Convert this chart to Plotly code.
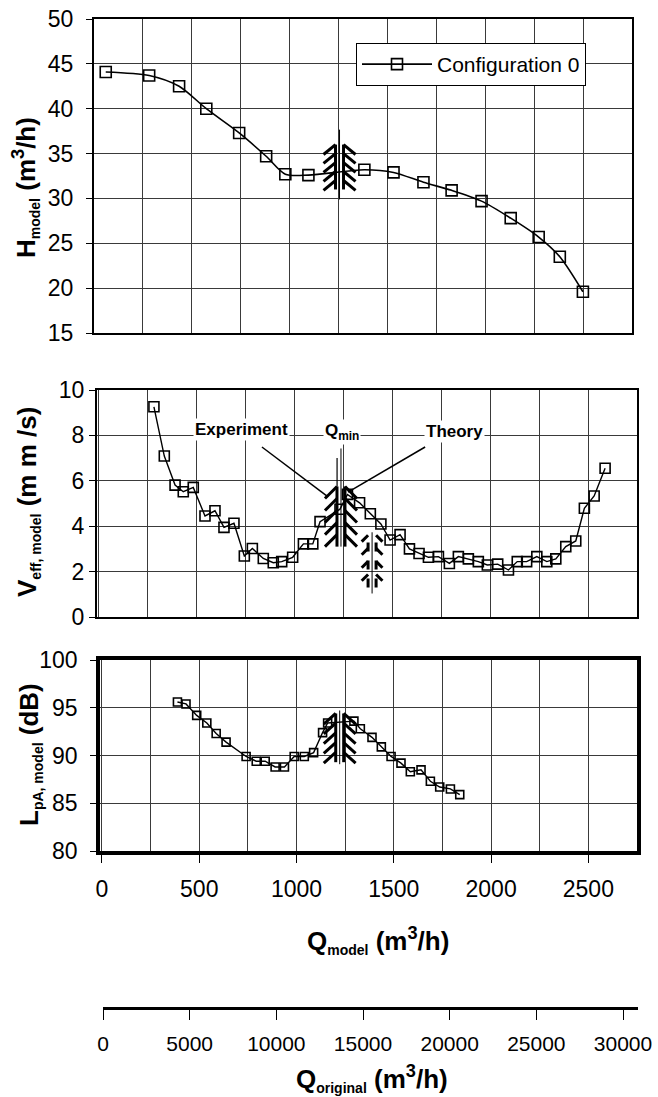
import plotly.graph_objects as go

# ---------------- data ----------------
Q_H = [60, 282, 435, 574, 742, 880, 978, 1096, 1382, 1531, 1684, 1828, 1981, 2130, 2273, 2381, 2499]
H_model = [44.1, 43.7, 42.5, 40.0, 37.3, 34.7, 32.7, 32.6, 33.2, 32.9, 31.8, 30.9, 29.7, 27.8, 25.7, 23.5, 19.6]

Q_V = [281, 334, 389, 431, 482, 542, 593, 639, 690, 743, 784, 840, 891, 934, 990, 1045, 1093,
       1130, 1232, 1270, 1332, 1387, 1441, 1488, 1539, 1587, 1636, 1684, 1735, 1791, 1837, 1888,
       1939, 1985, 2038, 2093, 2138, 2186, 2238, 2289, 2335, 2386, 2437, 2481, 2531, 2587]
V_eff = [9.26, 7.09, 5.81, 5.52, 5.71, 4.45, 4.68, 3.95, 4.13, 2.69, 3.02, 2.58, 2.39, 2.44, 2.63, 3.22, 3.22,
         4.2, 4.75, 5.4, 5.03, 4.55, 4.1, 3.39, 3.63, 3.0, 2.8, 2.63, 2.66, 2.36, 2.66, 2.56,
         2.44, 2.29, 2.33, 2.07, 2.44, 2.44, 2.66, 2.44, 2.56, 3.1, 3.35, 4.79, 5.33, 6.55]

Q_L = [388, 432, 487, 539, 587, 638, 741, 793, 839, 890, 938, 988, 1040, 1088, 1134, 1160,
       1295, 1328, 1388, 1436, 1486, 1537, 1585, 1640, 1688, 1736, 1791, 1839]
L_pA = [95.6, 95.4, 94.2, 93.4, 92.3, 91.4, 89.9, 89.4, 89.4, 88.8, 88.8, 89.9, 89.9, 90.3, 92.4, 93.4,
        93.6, 92.8, 91.9, 90.9, 89.9, 89.2, 88.3, 88.5, 87.3, 86.7, 86.5, 85.9]

series_name = "Configuration 0"
Q_orig_ticks = [0, 5000, 10000, 15000, 20000, 25000, 30000]

# Q_min marks (centre Q, low value, high value) per panel
qmin_top = (1255, 31.0, 36.0)
qmin_mid = (1237, 3.1, 5.75)
qmin_mid2 = (1396, 1.3, 3.6)
qmin_bot = (1222, 89.3, 94.4)

W, Hh = 658, 1097
FONT = "Liberation Sans, Arial, sans-serif"

def px(x):
    return x / W

def py(y):
    return 1 - y / Hh

fig = go.Figure()

mk = dict(symbol="square-open", color="black", line=dict(width=1.6))
fig.add_trace(go.Scatter(x=Q_H, y=H_model, mode="lines+markers", name=series_name,
                         line=dict(color="black", width=1.6, shape="spline", smoothing=0.8),
                         marker=dict(size=11, **mk), xaxis="x", yaxis="y", showlegend=True))
fig.add_trace(go.Scatter(x=Q_V, y=V_eff, mode="lines+markers", name=series_name,
                         line=dict(color="black", width=1.4),
                         marker=dict(size=10, **mk), xaxis="x2", yaxis="y2", showlegend=False))
fig.add_trace(go.Scatter(x=Q_L, y=L_pA, mode="lines+markers", name=series_name,
                         line=dict(color="black", width=1.4),
                         marker=dict(size=8, **mk), xaxis="x3", yaxis="y3", showlegend=False))
# invisible trace for the Q_original axis
fig.add_trace(go.Scatter(x=[Q_orig_ticks[0], Q_orig_ticks[-1]], y=[0, 0], mode="markers",
                         marker=dict(opacity=0), xaxis="x4", yaxis="y4", showlegend=False,
                         hoverinfo="skip"))

GRID = "#3a3a3a"
tickfont = dict(family=FONT, size=23, color="black")

def xax(domain, rng, labels, lw, anchor):
    d = dict(domain=domain, range=rng, tick0=0, dtick=500, showgrid=True, gridcolor=GRID,
             gridwidth=1, zeroline=False, showline=True, mirror=True, linecolor="black",
             linewidth=lw, tickfont=tickfont, anchor=anchor, automargin=False,
             minor=dict(dtick=250, tick0=0, showgrid=True, gridcolor=GRID, gridwidth=1, ticks=""))
    if labels:
        d.update(ticks="outside", ticklen=8, tickcolor="black", showticklabels=True,
                 ticklabelstandoff=7)
    else:
        d.update(ticks="", showticklabels=False)
    return d

def yax(domain, rng, dtick, lw, anchor, standoff):
    return dict(domain=domain, range=rng, dtick=dtick, tick0=0, showgrid=True, gridcolor=GRID,
                gridwidth=1, zeroline=False, showline=True, mirror=True, linecolor="black",
                linewidth=lw, ticks="outside", ticklen=6, tickcolor="black", tickfont=tickfont,
                anchor=anchor, ticklabelstandoff=standoff, automargin=False)

layout = dict(
    width=W, height=Hh, autosize=False,
    margin=dict(l=0, r=0, t=0, b=0, pad=0, autoexpand=False),
    paper_bgcolor="white", plot_bgcolor="white",
    font=dict(family=FONT, color="black"),
    xaxis=xax([px(94), px(632)], [0, 2750], False, 2, "y"),
    yaxis=yax([py(333), py(19)], [15, 50], 5, 2, "x", 8),
    xaxis2=xax([px(97), px(637)], [-10, 2750], False, 2, "y2"),
    yaxis2=yax([py(617), py(390)], [0, 10], 2, 2, "x2", 0),
    xaxis3=xax([px(100), px(637)], [-10, 2750], True, 3.5, "y3"),
    yaxis3=yax([py(851), py(660)], [80, 100], 5, 3.5, "x3", 8),
    xaxis4=dict(domain=[px(103), px(638)], range=[0, 30865], anchor="free", position=py(1008),
                showline=True, linecolor="black", linewidth=3, showgrid=False, zeroline=False,
                ticks="outside", ticklen=10, tickcolor="black", tickwidth=1.2, automargin=False,
                tickvals=Q_orig_ticks, ticktext=[str(v) for v in Q_orig_ticks],
                tickfont=dict(family=FONT, size=21, color="black"), ticklabelstandoff=6),
    yaxis4=dict(domain=[0, 0.01], visible=False, anchor="x4", range=[0, 1], automargin=False),
    showlegend=True,
    legend=dict(x=px(356), y=py(43), xanchor="left", yanchor="top", bgcolor="white",
                bordercolor="black", borderwidth=1, orientation="v",
                font=dict(family=FONT, size=21, color="black"), itemwidth=70,
                tracegroupgap=0),
)
fig.update_layout(**layout)

# ---------------- Q_min "fir tree" marks ----------------
shapes = []

def tree(xr, yr, centre, qpp, ypp, thin_ext=(8, 8), n=5, dash="solid", half=4, arm=12):
    qc, ylo, yhi = centre
    dq = lambda p: p * qpp
    dy = lambda p: p * ypp
    ln = dict(color="black", width=3, dash=dash)
    shapes.append(dict(type="line", xref=xr, yref=yr, x0=qc, x1=qc,
                       y0=ylo - dy(thin_ext[0]), y1=yhi + dy(thin_ext[1]),
                       line=dict(color="black", width=1)))
    for s in (-1, 1):
        xb = qc + s * dq(half)
        shapes.append(dict(type="line", xref=xr, yref=yr, x0=xb, x1=xb, y0=ylo, y1=yhi, line=ln))
        step = (yhi - ylo) / n
        for i in range(n):
            yt = yhi - i * step
            shapes.append(dict(type="line", xref=xr, yref=yr, x0=xb, y0=yt,
                               x1=xb + s * dq(arm), y1=yt - min(step * 1.1, dy(arm)), line=ln))

QPP = 1 / 0.1955
tree("x", "y", qmin_top, QPP, 1 / 9.0, thin_ext=(10, 15))
tree("x2", "y2", qmin_mid, QPP, 1 / 22.7, thin_ext=(0, 38))
tree("x2", "y2", qmin_mid2, QPP, 1 / 22.7, thin_ext=(6, 3), n=4, dash="dash")
tree("x3", "y3", qmin_bot, QPP, 1 / 9.55, thin_ext=(2, 3))

shapes.append(dict(type="line", xref="x2", yref="y2", x0=1217, x1=1217, y0=5.75, y1=7.0,
                   line=dict(color="black", width=1.2)))
shapes.append(dict(type="line", xref="x2", yref="y2", x0=833, y0=7.49, x1=1171, y1=5.29,
                   line=dict(color="black", width=1.5)))
shapes.append(dict(type="line", xref="x2", yref="y2", x0=1667, y0=7.49, x1=1273, y1=5.5,
                   line=dict(color="black", width=1.5)))
fig.update_layout(shapes=shapes)

ann = []
bold = dict(family=FONT, size=17, color="black")
ann.append(dict(x=731, y=8.24, xref="x2", yref="y2", text="<b>Experiment</b>", showarrow=False,
                font=bold, bgcolor="white", xanchor="center", yanchor="middle"))
ann.append(dict(x=1815, y=8.15, xref="x2", yref="y2", text="<b>Theory</b>", showarrow=False,
                font=bold, bgcolor="white", xanchor="center", yanchor="middle"))
ann.append(dict(x=1242, y=8.15, xref="x2", yref="y2",
                text="<b>Q<sub>min</sub></b>", showarrow=False, font=bold, bgcolor="white",
                xanchor="center", yanchor="middle"))

tfont = dict(family=FONT, size=26, color="black")
sub = lambda t: f"<sub><span style='font-size:14px'>{t}</span></sub>"
common = dict(xref="paper", yref="paper", showarrow=False, font=tfont,
              xanchor="center", yanchor="middle")
ann.append(dict(x=px(25), y=py(188), textangle=-90,
                text=f"<b>H{sub('model')} (m<sup>3</sup>/h)</b>", **common))
ann.append(dict(x=px(28), y=py(502), textangle=-90,
                text=f"<b>V{sub('eff, model')} (m m /s)</b>", **common))
ann.append(dict(x=px(30), y=py(755), textangle=-90,
                text=f"<b>L{sub('pA, model')} (dB)</b>", **common))
ann.append(dict(x=px(378), y=py(940), text=f"<b>Q{sub('model')} (m<sup>3</sup>/h)</b>", **common))
ann.append(dict(x=px(372), y=py(1078), text=f"<b>Q{sub('original')} (m<sup>3</sup>/h)</b>", **common))
fig.update_layout(annotations=ann)

fig.write_html("out.html", config={"displayModeBar": False},
               post_script="document.body.style.margin='0px';")
